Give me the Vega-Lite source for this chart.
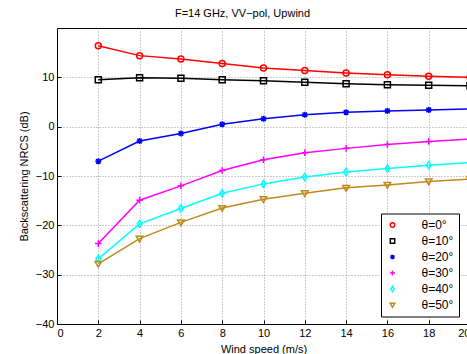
{
  "$schema": "https://vega.github.io/schema/vega-lite/v6.json",
  "width": 413,
  "height": 296,
  "autosize": {"type": "none"},
  "padding": {"left": 57, "top": 28, "right": 0, "bottom": 30},
  "background": "white",
  "config": {
    "font": "Liberation Sans",
    "view": {"stroke": "black", "strokeWidth": 1},
    "axis": {
      "labelFont": "Liberation Sans", "labelFontSize": 11, "labelColor": "black",
      "titleFont": "Liberation Sans", "titleFontSize": 11, "titleFontWeight": "normal", "titleColor": "black",
      "domainColor": "black", "tickColor": "black", "tickSize": -4,
      "gridColor": "#9a9a9a", "gridDash": [1, 2], "gridWidth": 1
    },
    "legend": {
      "labelFont": "Liberation Sans", "labelFontSize": 12, "labelColor": "black",
      "strokeColor": "black", "fillColor": "white", "padding": 5.5,
      "labelOffset": 23, "rowPadding": 4,
      "symbolSize": 20, "symbolStrokeWidth": 1.4
    }
  },
  "title": {"text": "F=14 GHz, VV−pol, Upwind", "font": "Liberation Sans", "fontSize": 11, "fontWeight": "normal", "color": "black", "offset": 9, "dx": -21},
  "data": {"values": [
    {"speed": 2, "theta": "θ=0°", "marker": "θ=0°", "nrcs": 16.4}, {"speed": 4, "theta": "θ=0°", "marker": "θ=0°", "nrcs": 14.4}, {"speed": 6, "theta": "θ=0°", "marker": "θ=0°", "nrcs": 13.7}, {"speed": 8, "theta": "θ=0°", "marker": "θ=0°", "nrcs": 12.8}, {"speed": 10, "theta": "θ=0°", "marker": "θ=0°", "nrcs": 11.9}, {"speed": 12, "theta": "θ=0°", "marker": "θ=0°", "nrcs": 11.4}, {"speed": 14, "theta": "θ=0°", "marker": "θ=0°", "nrcs": 10.9}, {"speed": 16, "theta": "θ=0°", "marker": "θ=0°", "nrcs": 10.5}, {"speed": 18, "theta": "θ=0°", "marker": "θ=0°", "nrcs": 10.2}, {"speed": 20, "theta": "θ=0°", "marker": "θ=0°", "nrcs": 10.0},
    {"speed": 2, "theta": "θ=10°", "marker": "θ=10°", "nrcs": 9.5}, {"speed": 4, "theta": "θ=10°", "marker": "θ=10°", "nrcs": 9.9}, {"speed": 6, "theta": "θ=10°", "marker": "θ=10°", "nrcs": 9.8}, {"speed": 8, "theta": "θ=10°", "marker": "θ=10°", "nrcs": 9.5}, {"speed": 10, "theta": "θ=10°", "marker": "θ=10°", "nrcs": 9.3}, {"speed": 12, "theta": "θ=10°", "marker": "θ=10°", "nrcs": 9.0}, {"speed": 14, "theta": "θ=10°", "marker": "θ=10°", "nrcs": 8.7}, {"speed": 16, "theta": "θ=10°", "marker": "θ=10°", "nrcs": 8.5}, {"speed": 18, "theta": "θ=10°", "marker": "θ=10°", "nrcs": 8.4}, {"speed": 20, "theta": "θ=10°", "marker": "θ=10°", "nrcs": 8.3},
    {"speed": 2, "theta": "θ=20°", "marker": "θ=20°", "nrcs": -7.0}, {"speed": 4, "theta": "θ=20°", "marker": "θ=20°", "nrcs": -2.9}, {"speed": 6, "theta": "θ=20°", "marker": "θ=20°", "nrcs": -1.4}, {"speed": 8, "theta": "θ=20°", "marker": "θ=20°", "nrcs": 0.5}, {"speed": 10, "theta": "θ=20°", "marker": "θ=20°", "nrcs": 1.6}, {"speed": 12, "theta": "θ=20°", "marker": "θ=20°", "nrcs": 2.4}, {"speed": 14, "theta": "θ=20°", "marker": "θ=20°", "nrcs": 2.9}, {"speed": 16, "theta": "θ=20°", "marker": "θ=20°", "nrcs": 3.2}, {"speed": 18, "theta": "θ=20°", "marker": "θ=20°", "nrcs": 3.4}, {"speed": 20, "theta": "θ=20°", "marker": "θ=20°", "nrcs": 3.6},
    {"speed": 2, "theta": "θ=30°", "marker": "θ=30°", "nrcs": -23.7}, {"speed": 4, "theta": "θ=30°", "marker": "θ=30°", "nrcs": -14.9}, {"speed": 6, "theta": "θ=30°", "marker": "θ=30°", "nrcs": -12.0}, {"speed": 8, "theta": "θ=30°", "marker": "θ=30°", "nrcs": -8.9}, {"speed": 10, "theta": "θ=30°", "marker": "θ=30°", "nrcs": -6.7}, {"speed": 12, "theta": "θ=30°", "marker": "θ=30°", "nrcs": -5.3}, {"speed": 14, "theta": "θ=30°", "marker": "θ=30°", "nrcs": -4.4}, {"speed": 16, "theta": "θ=30°", "marker": "θ=30°", "nrcs": -3.6}, {"speed": 18, "theta": "θ=30°", "marker": "θ=30°", "nrcs": -3.0}, {"speed": 20, "theta": "θ=30°", "marker": "θ=30°", "nrcs": -2.5},
    {"speed": 2, "theta": "θ=40°", "marker": "θ=40°", "nrcs": -26.8}, {"speed": 4, "theta": "θ=40°", "marker": "θ=40°", "nrcs": -19.7}, {"speed": 6, "theta": "θ=40°", "marker": "θ=40°", "nrcs": -16.6}, {"speed": 8, "theta": "θ=40°", "marker": "θ=40°", "nrcs": -13.5}, {"speed": 10, "theta": "θ=40°", "marker": "θ=40°", "nrcs": -11.6}, {"speed": 12, "theta": "θ=40°", "marker": "θ=40°", "nrcs": -10.2}, {"speed": 14, "theta": "θ=40°", "marker": "θ=40°", "nrcs": -9.2}, {"speed": 16, "theta": "θ=40°", "marker": "θ=40°", "nrcs": -8.5}, {"speed": 18, "theta": "θ=40°", "marker": "θ=40°", "nrcs": -7.8}, {"speed": 20, "theta": "θ=40°", "marker": "θ=40°", "nrcs": -7.3},
    {"speed": 2, "theta": "θ=50°", "marker": "θ=50°", "nrcs": -27.8}, {"speed": 4, "theta": "θ=50°", "marker": "θ=50°", "nrcs": -22.7}, {"speed": 6, "theta": "θ=50°", "marker": "θ=50°", "nrcs": -19.4}, {"speed": 8, "theta": "θ=50°", "marker": "θ=50°", "nrcs": -16.5}, {"speed": 10, "theta": "θ=50°", "marker": "θ=50°", "nrcs": -14.7}, {"speed": 12, "theta": "θ=50°", "marker": "θ=50°", "nrcs": -13.5}, {"speed": 14, "theta": "θ=50°", "marker": "θ=50°", "nrcs": -12.4}, {"speed": 16, "theta": "θ=50°", "marker": "θ=50°", "nrcs": -11.8}, {"speed": 18, "theta": "θ=50°", "marker": "θ=50°", "nrcs": -11.1}, {"speed": 20, "theta": "θ=50°", "marker": "θ=50°", "nrcs": -10.6}
  ]},
  "encoding": {
    "x": {"field": "speed", "type": "quantitative", "scale": {"domain": [0, 20], "nice": false},
          "axis": {"title": "Wind speed (m/s)", "values": [0, 2, 4, 6, 8, 10, 12, 14, 16, 18, 20], "labelPadding": 7, "titlePadding": 5, "grid": true}},
    "y": {"field": "nrcs", "type": "quantitative", "scale": {"domain": [-40, 20], "nice": false},
          "axis": {"title": "Backscattering NRCS (dB)", "values": [-40, -30, -20, -10, 0, 10], "labelPadding": 7, "titlePadding": 6, "grid": true}},
    "color": {
      "field": "theta", "type": "nominal",
      "scale": {"domain": ["θ=0°", "θ=10°", "θ=20°", "θ=30°", "θ=40°", "θ=50°"], "range": ["#ff0000", "#000000", "#0000ff", "#ff00ff", "#00ffff", "#bf8a1c"]},
      "legend": {
        "title": null, "orient": "none", "legendX": 324, "legendY": 185.5,
        "encode": {
          "symbols": {
            "update": {
              "fill": {"value": "transparent"},
              "shape": {"value": {"expr": "datum.value === 'θ=0°' ? 'M-2,0H3.9M5.9,0H11.8M5.9,0A1,1,0,1,1,3.9,0A1,1,0,1,1,5.9,0Z' : datum.value === 'θ=10°' ? 'M-2,0H3.9M5.9,0H11.8M3.9,-1H5.9V1H3.9Z' : datum.value === 'θ=20°' ? 'M-2,0H11.8M4.9,-1V1M4.15,-0.75L5.65,0.75M4.15,0.75L5.65,-0.75M4.4,-0.4H5.4V0.4H4.4Z' : datum.value === 'θ=30°' ? 'M-2,0H11.8M4.9,-1.3V1.3' : datum.value === 'θ=40°' ? 'M-2,0H4.1M5.7,0H11.8M4.9,-1.2L5.7,0L4.9,1.2L4.1,0Z' : 'M-2,0H11.8M3.8,-0.8H6L4.9,1.1Z'"}}
            }
          }
        }
      }
    }
  },
  "layer": [
    {"mark": {"type": "line", "strokeWidth": 1.5}},
    {
      "mark": {"type": "point", "filled": false, "size": 36, "strokeWidth": 1.5, "opacity": 1},
      "encoding": {
        "shape": {
          "field": "marker", "type": "nominal",
          "scale": {"domain": ["θ=0°", "θ=10°", "θ=20°", "θ=30°", "θ=40°", "θ=50°"],
                    "range": ["circle", "square", "M-1,0H1M0,-1V1M-0.75,-0.75L0.75,0.75M-0.75,0.75L0.75,-0.75", "M-1.1,0H1.1M0,-1.1V1.1", "M0,-1.2L0.8,0L0,1.2L-0.8,0Z", "M-1.1,-0.8H1.1L0,1.1Z"]},
          "legend": null
        }
      }
    }
  ]
}
